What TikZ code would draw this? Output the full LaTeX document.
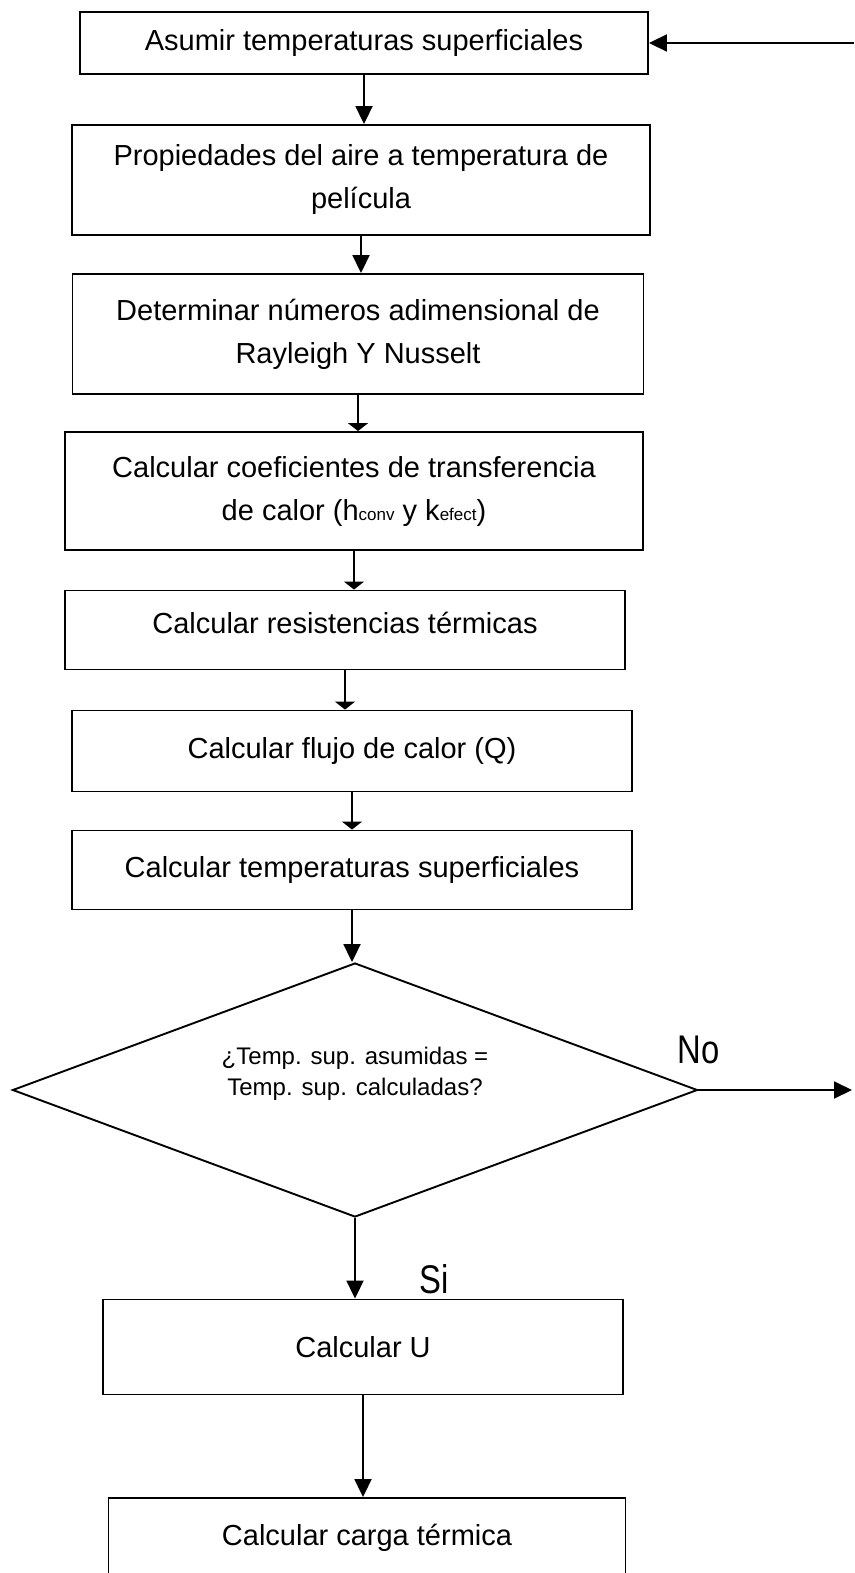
\documentclass[tikz,border=0pt]{standalone}
\usepackage{fontspec}
\setmainfont{Liberation Sans}
\newfontfamily\estrecha[FakeStretch=0.82]{Liberation Sans}
\usetikzlibrary{arrows.meta,shapes.geometric,positioning}

\tikzset{
  caja/.style={draw, line width=1.9pt, inner sep=0pt, align=center,
    font=\fontsize{29}{43}\selectfont},
  rombo/.style={draw, diamond, line width=1.9pt, inner sep=0pt},
  flecha/.style={line width=1.9pt, -{Triangle[width=17pt,length=18pt]}},
  flechacorta/.style={line width=1.9pt, -{Triangle[width=20pt,length=8pt]}},
  etiqueta/.style={inner sep=0pt, font=\estrecha\fontsize{40}{40}\selectfont},
}
\newcommand{\peq}[1]{{\fontsize{17}{17}\selectfont #1}}

\begin{document}
\begin{tikzpicture}[x=1pt, y=-1pt]
\useasboundingbox (0,0) rectangle (854,1573);

\node[caja, minimum width=568pt, minimum height=62pt] (b1) at (364,43)
    {Asumir temperaturas superficiales};
\node[caja, minimum width=578pt, minimum height=110pt] (b2) at (361,180)
    {Propiedades del aire a temperatura de\\pel\'icula};
\node[caja, minimum width=571pt, minimum height=120pt] (b3) at (358,334)
    {Determinar n\'umeros adimensional de\\Rayleigh Y Nusselt};
\node[caja, minimum width=578pt, minimum height=118pt] (b4) at (354,491)
    {Calcular coeficientes de transferencia\\de calor (h\peq{conv} y k\peq{efect})};
\node[caja, minimum width=560pt, minimum height=79pt, text depth=14pt] (b5) at (345,630)
    {Calcular resistencias t\'ermicas};
\node[caja, minimum width=560pt, minimum height=81pt] (b6) at (352,751)
    {Calcular flujo de calor (Q)};
\node[caja, minimum width=560pt, minimum height=79pt] (b7) at (352,870)
    {Calcular temperaturas superficiales};
\node[rombo, minimum width=685pt, minimum height=254pt,
    label={[align=center, font=\fontsize{24}{31}\selectfont, yshift=16pt]center:%
    {¿Temp. sup. asumidas =\\Temp. sup. calculadas?}}] (d) at (355,1090) {};
\node[caja, minimum width=520pt, minimum height=95pt] (b8) at (363,1347)
    {Calcular U};
\node[caja, minimum width=517pt, minimum height=80pt] (b9) at (367,1538)
    {Calcular carga t\'ermica};

\coordinate (fin) at (852,1090);
\coordinate (inicio) at (854,43);

% flujo principal
\foreach \a/\b/\tipo in {b1/b2/flecha, b2/b3/flecha, b3/b4/flechacorta,
    b4/b5/flechacorta, b5/b6/flechacorta, b6/b7/flechacorta,
    b7/d/flecha, b8/b9/flecha}
  \draw[\tipo] (\a.south) -- (\a.south |- \b.north);

\draw[flecha] (d.south) -- (d.south |- b8.north)
    node[etiqueta, pos=0.76, right=64pt] {Si};

% vuelta
\draw[flecha] (d.east) -- (fin)
    node[etiqueta, pos=0, above=25pt] {No};
\draw[flecha] (inicio) -- (b1.east);

\end{tikzpicture}
\end{document}
